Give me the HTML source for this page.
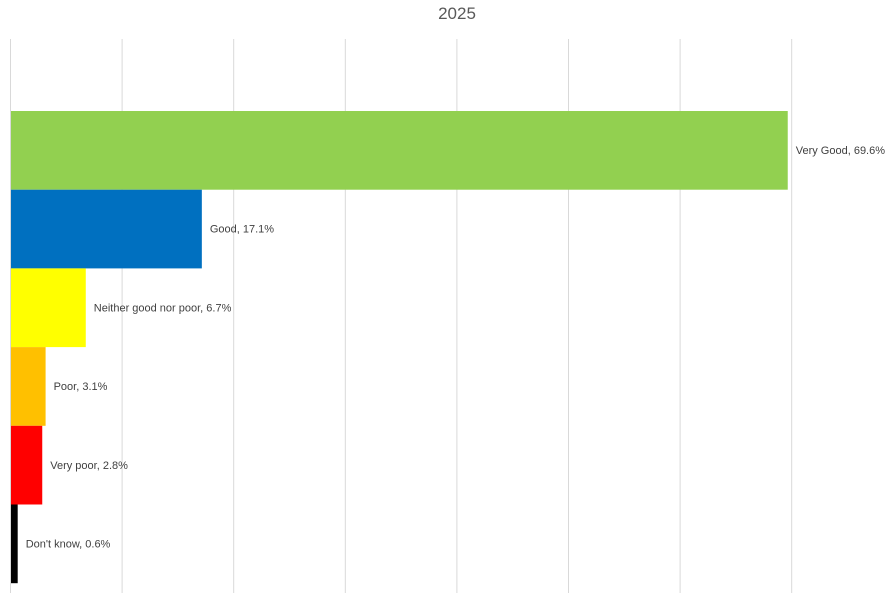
<!DOCTYPE html>
<html><head><meta charset="utf-8"><style>
body{margin:0;background:#fff;font-family:"Liberation Sans",sans-serif}
</style></head><body>
<svg id="c" width="891" height="593">
<text x="457" y="19" text-anchor="middle" font-size="17" fill="#595959">2025</text>
<g id="grid"></g><g id="bars"></g>
</svg>
<script>
const categories=["Very Good","Good","Neither good nor poor","Poor","Very poor","Don't know"];
const values=[69.6,17.1,6.7,3.1,2.8,0.6];
const colors=["#92d050","#0070c0","#ffff00","#ffc000","#ff0000","#000000"];
const ticks=[0,10,20,30,40,50,60,70];
const NS="http://www.w3.org/2000/svg";
const x=v=>11+v*11.16;
const y=i=>111+i*78.7;
const g=document.getElementById('grid'),b=document.getElementById('bars');
ticks.forEach(t=>{const l=document.createElementNS(NS,'line');
l.setAttribute('x1',x(t)-0.5);l.setAttribute('x2',x(t)-0.5);l.setAttribute('y1',39);l.setAttribute('y2',593);
l.setAttribute('stroke','#d9d9d9');l.setAttribute('stroke-width','1');


g.appendChild(l);});
categories.forEach((c,i)=>{const r=document.createElementNS(NS,'rect');
r.setAttribute('x',x(0));r.setAttribute('y',y(i));r.setAttribute('width',x(values[i])-x(0));r.setAttribute('height',78.7);
r.setAttribute('fill',colors[i]);


b.appendChild(r);
const t=document.createElementNS(NS,'text');
t.setAttribute('x',x(values[i])+8);t.setAttribute('y',y(i)+39+4);
t.setAttribute('font-size','11');t.setAttribute('fill','#404040');
t.textContent=c+', '+values[i].toFixed(1)+'%';


b.appendChild(t);});
</script>
</body></html>
